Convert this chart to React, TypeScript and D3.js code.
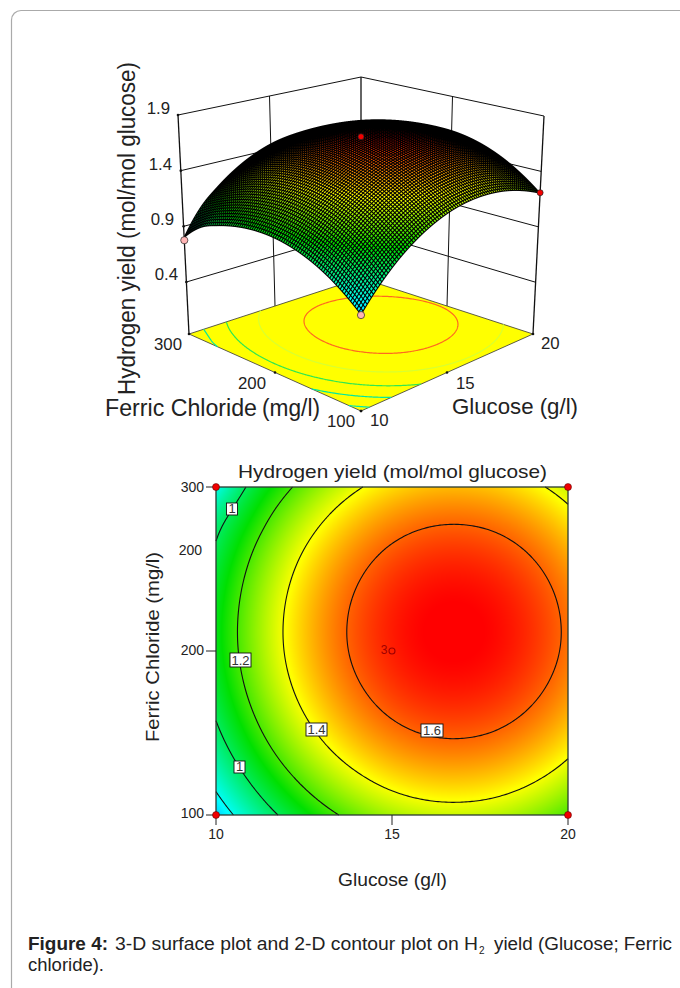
import { useMemo } from 'react';
import * as d3 from 'd3';

const FONT = '"Liberation Sans", Arial, sans-serif';

// response surface: rows are ferric chloride, columns glucose
const glucoseLevels = [10, 11, 12, 13, 14, 15, 16, 17, 18, 19, 20];
const ferricLevels = [100, 120, 140, 160, 180, 200, 220, 240, 260, 280, 300];
const yieldGrid = [
  [0.71, 0.885, 1.033, 1.152, 1.243, 1.307, 1.342, 1.349, 1.329, 1.28, 1.203],
  [0.833, 1.008, 1.156, 1.275, 1.366, 1.43, 1.465, 1.472, 1.452, 1.403, 1.326],
  [0.933, 1.108, 1.256, 1.375, 1.466, 1.53, 1.565, 1.572, 1.552, 1.503, 1.426],
  [1.008, 1.183, 1.331, 1.45, 1.541, 1.605, 1.64, 1.647, 1.627, 1.578, 1.501],
  [1.059, 1.234, 1.382, 1.501, 1.592, 1.656, 1.691, 1.698, 1.678, 1.629, 1.552],
  [1.086, 1.261, 1.409, 1.528, 1.619, 1.683, 1.718, 1.725, 1.705, 1.656, 1.579],
  [1.088, 1.263, 1.411, 1.53, 1.621, 1.685, 1.72, 1.727, 1.707, 1.658, 1.581],
  [1.066, 1.241, 1.389, 1.508, 1.599, 1.663, 1.698, 1.705, 1.685, 1.636, 1.559],
  [1.02, 1.195, 1.343, 1.462, 1.553, 1.617, 1.652, 1.659, 1.639, 1.59, 1.513],
  [0.949, 1.124, 1.272, 1.391, 1.482, 1.546, 1.581, 1.588, 1.568, 1.519, 1.442],
  [0.8, 1.029, 1.177, 1.296, 1.387, 1.451, 1.486, 1.493, 1.473, 1.424, 1.347],
];

const contourLevels = [0.8, 1, 1.2, 1.4, 1.6];
const floorLineColors = ['#00e8b0', '#00e8a0', '#30e850', '#d8ff30', '#ff6a20'];
const colorStops = [0.62, 0.78, 1.12, 1.41, 1.72];
const colorRange = ['#0090ff', '#00ffff', '#00e000', '#ffff00', '#ff0000'];

const yieldTicks3d = [0.4, 0.9, 1.4, 1.9];
const glucoseTicks = [10, 15, 20];
const ferricTicks = [100, 200, 300];

const designGlucose = [10, 10, 20, 20, 15];
const designFerric = [100, 300, 100, 300, 200];
const designYield3d = [0.706, 0.775, 1.208, 1.2, 1.74];

const color = d3.scaleLinear<string>().domain(colorStops).range(colorRange).clamp(true);

const gScale = d3.scaleLinear().domain([10, 20]);
const fScale = d3.scaleLinear().domain([100, 300]);
const zScale = d3.scaleLinear().domain([-0.067, 1.9]);

// box corners of the 3-D view: [glucose low/high][ferric low/high]
const floorBox = [[[361, 411], [189, 334]], [[533, 334], [361, 278]]];
const topBox = [[[361, 167], [178, 115]], [[544, 116], [361, 77]]];

const bilerp = (b: number[][][], u: number, v: number, k: number) =>
  (1 - u) * (1 - v) * b[0][0][k] + u * (1 - v) * b[1][0][k] + (1 - u) * v * b[0][1][k] + u * v * b[1][1][k];

const project = (g: number, f: number, z: number): [number, number] => {
  const u = gScale(g);
  const v = fScale(f);
  const w = zScale(z);
  return [
    bilerp(floorBox, u, v, 0) * (1 - w) + bilerp(topBox, u, v, 0) * w,
    bilerp(floorBox, u, v, 1) * (1 - w) + bilerp(topBox, u, v, 1) * w,
  ];
};

// catmull-rom just to smooth the read grid for drawing
const cr = (a: number, b: number, c: number, d: number, t: number) =>
  b + 0.5 * t * (c - a + t * (2 * a - 5 * b + 4 * c - d + t * (3 * (b - c) + d - a)));

const cell = (j: number, i: number): number => {
  const n = yieldGrid.length - 1;
  if (j < 0) return 3 * cell(0, i) - 3 * cell(1, i) + cell(2, i);
  if (j > n) return 3 * cell(n, i) - 3 * cell(n - 1, i) + cell(n - 2, i);
  if (i < 0) return 3 * yieldGrid[j][0] - 3 * yieldGrid[j][1] + yieldGrid[j][2];
  if (i > n) return 3 * yieldGrid[j][n] - 3 * yieldGrid[j][n - 1] + yieldGrid[j][n - 2];
  return yieldGrid[j][i];
};

const gIndex = d3.scaleLinear().domain([glucoseLevels[0], glucoseLevels[10]]).range([0, 10]);
const fIndex = d3.scaleLinear().domain([ferricLevels[0], ferricLevels[10]]).range([0, 10]);

const sample = (g: number, f: number) => {
  const x = gIndex(g);
  const y = fIndex(f);
  const i = Math.min(9, Math.floor(x));
  const j = Math.min(9, Math.floor(y));
  const row = (r: number) => cr(cell(r, i - 1), cell(r, i), cell(r, i + 1), cell(r, i + 2), x - i);
  return cr(row(j - 1), row(j), row(j + 1), row(j + 2), y - j);
};

// 2-D plot scales
const xPlot = d3.scaleLinear().domain([10, 20]).range([216, 568]);
const yPlot = d3.scaleLinear().domain([100, 300]).range([815, 487]);

const NX = 177;
const NY = 165;
const nxScale = d3.scaleLinear().domain([0.5, NX - 0.5]).range([10, 20]);
const nyScale = d3.scaleLinear().domain([0.5, NY - 0.5]).range([100, 300]);

// cut a contour ring into open runs, dropping the pieces running along the grid edge
const ringRuns = (ring: number[][]) => {
  const pts = ring.slice(0, -1);
  const onEdge = (p: number[]) => p[0] <= 0 || p[0] >= NX || p[1] <= 0 || p[1] >= NY;
  const start = pts.findIndex(onEdge);
  if (start < 0) return [ring];
  const runs: number[][][] = [];
  let cur: number[][] = [];
  for (let k = 0; k <= pts.length; k++) {
    const p = pts[(start + k) % pts.length];
    if (onEdge(p)) {
      if (cur.length > 1) runs.push(cur);
      cur = [];
    } else cur.push(p);
  }
  return runs;
};

const SURF_N = 85;
const MESH_BOX = { x: 170, y: 100, w: 380, h: 230 };
const MESH_SS = 4;

// mesh goes through a big canvas first, svg strokes beat against the pixel grid
const drawMesh = () => {
  const big = document.createElement('canvas');
  big.width = MESH_BOX.w * MESH_SS;
  big.height = MESH_BOX.h * MESH_SS;
  const ctx = big.getContext('2d')!;
  ctx.scale(MESH_SS, MESH_SS);
  ctx.translate(-MESH_BOX.x, -MESH_BOX.y);
  ctx.lineWidth = 1.05;
  ctx.lineJoin = 'round';
  ctx.strokeStyle = '#000';
  const gs = d3.range(SURF_N + 1).map((i) => 10 + (10 * i) / SURF_N);
  const fs = d3.range(SURF_N + 1).map((j) => 100 + (200 * j) / SURF_N);
  for (let i = SURF_N - 1; i >= 0; i--) {
    for (let j = SURF_N - 1; j >= 0; j--) {
      const corners = [[gs[i], fs[j]], [gs[i + 1], fs[j]], [gs[i + 1], fs[j + 1]], [gs[i], fs[j + 1]]];
      ctx.beginPath();
      corners.forEach(([g, f], k) => {
        const [x, y] = project(g, f, sample(g, f));
        if (k === 0) ctx.moveTo(x, y);
        else ctx.lineTo(x, y);
      });
      ctx.closePath();
      ctx.fillStyle = color(sample((gs[i] + gs[i + 1]) / 2, (fs[j] + fs[j + 1]) / 2)) as string;
      ctx.fill();
      ctx.stroke();
    }
  }
  const small = document.createElement('canvas');
  small.width = MESH_BOX.w;
  small.height = MESH_BOX.h;
  const sctx = small.getContext('2d')!;
  sctx.imageSmoothingEnabled = true;
  sctx.imageSmoothingQuality = 'high';
  sctx.drawImage(big, 0, 0, MESH_BOX.w, MESH_BOX.h);
  return small.toDataURL();
};

const App = () => {
  const { heatUrl, runs, meshUrl } = useMemo(() => {
    const canvas = document.createElement('canvas');
    canvas.width = 352;
    canvas.height = 328;
    const ctx = canvas.getContext('2d')!;
    const img = ctx.createImageData(352, 328);
    for (let y = 0; y < 328; y++) {
      for (let x = 0; x < 352; x++) {
        const c = d3.rgb(color(sample(xPlot.invert(216 + x + 0.5), yPlot.invert(487 + y + 0.5))));
        const o = (y * 352 + x) * 4;
        img.data[o] = c.r;
        img.data[o + 1] = c.g;
        img.data[o + 2] = c.b;
        img.data[o + 3] = 255;
      }
    }
    ctx.putImageData(img, 0, 0);

    const values: number[] = [];
    for (let j = 0; j < NY; j++) for (let i = 0; i < NX; i++) values.push(sample(nxScale(i + 0.5), nyScale(j + 0.5)));
    const polys = d3.contours().size([NX, NY]).thresholds(contourLevels)(values);
    const runs = polys.map((p, li) => ({
      level: contourLevels[li],
      lines: p.coordinates.flatMap((poly) => poly.flatMap((ring) => ringRuns(ring as number[][]))),
    }));
    return { heatUrl: canvas.toDataURL(), runs, meshUrl: drawMesh() };
  }, []);

  const line2d = d3.line<number[]>().x((p) => xPlot(nxScale(p[0]))).y((p) => yPlot(nyScale(p[1])));
  const lineFloor = d3
    .line<number[]>()
    .x((p) => project(nxScale(p[0]), nyScale(p[1]), -0.067)[0])
    .y((p) => project(nxScale(p[0]), nyScale(p[1]), -0.067)[1]);
  const seg = (a: [number, number], b: [number, number], key: string, w = 1) => (
    <line key={key} x1={a[0]} y1={a[1]} x2={b[0]} y2={b[1]} stroke="#111" strokeWidth={w} />
  );
  const zLo = -0.067;
  const zHi = 1.9;
  const t3d = { fontFamily: FONT, fontSize: 16.8, fill: '#222' };

  return (
    <svg width={680} height={988} style={{ position: 'absolute', left: 0, top: 0, background: '#fff' }} fontFamily={FONT}>
      <path d="M680 10.5H21a9.5 9.5 0 0 0-9.5 9.5V988" fill="none" stroke="#aaa" strokeWidth={1.2} />

      {/* 3-D box */}
      <g>
        {yieldTicks3d.map((z) => (
          <g key={z}>
            {seg(project(10, 300, z), project(20, 300, z), `l${z}`)}
            {seg(project(20, 300, z), project(20, 100, z), `r${z}`)}
            <circle cx={project(10, 300, z)[0]} cy={project(10, 300, z)[1]} r={1.3} fill="#111" />
          </g>
        ))}
        {seg(project(15, 300, zLo), project(15, 300, zHi), 'gmid')}
        {seg(project(20, 200, zLo), project(20, 200, zHi), 'fmid')}
        {seg(project(10, 300, zLo), project(10, 300, zHi), 'ax-l', 1.3)}
        {seg(project(20, 100, zLo), project(20, 100, zHi), 'ax-r', 1.3)}
        {seg(project(20, 300, zLo), project(20, 300, zHi), 'ax-b', 1.3)}
        <polygon
          points={[project(10, 100, zLo), project(20, 100, zLo), project(20, 300, zLo), project(10, 300, zLo)].map((p) => p.join(',')).join(' ')}
          fill="#ffff00"
          stroke="#333"
          strokeWidth={0.8}
        />
        {runs.map((r, li) =>
          r.lines.map((l, k) => (
            <path key={`${li}-${k}`} d={lineFloor(l)!} fill="none" stroke={floorLineColors[li]} strokeWidth={1.2} />
          )),
        )}
        {ferricTicks.map((f) => (
          <circle key={`tf${f}`} cx={project(10, f, zLo)[0]} cy={project(10, f, zLo)[1]} r={1.3} fill="#111" />
        ))}
        {glucoseTicks.map((g) => (
          <circle key={`tg${g}`} cx={project(g, 100, zLo)[0]} cy={project(g, 100, zLo)[1]} r={1.3} fill="#111" />
        ))}
      </g>

      {/* surface mesh */}
      <image href={meshUrl} x={MESH_BOX.x} y={MESH_BOX.y} width={MESH_BOX.w} height={MESH_BOX.h} />

      {designGlucose.map((g, i) => {
        if (g === 20 && designFerric[i] === 300) return null;
        const [x, y] = project(g, designFerric[i], designYield3d[i]);
        const pink = i < 2;
        return <circle key={`dp${i}`} cx={x} cy={y} r={pink ? 3.6 : 3} fill={pink ? '#ffb4b4' : '#f40000'} stroke="#222" strokeWidth={0.7} />;
      })}
      <text transform="translate(135,395) rotate(-90)" fontSize={23} textLength={333} lengthAdjust="spacingAndGlyphs" fill="#222">
        Hydrogen yield (mol/mol glucose)
      </text>
      <g textAnchor="end" {...t3d}>
        <text x={170} y={114}>1.9</text>
        <text x={172} y={170}>1.4</text>
        <text x={174} y={225}>0.9</text>
        <text x={178} y={280}>0.4</text>
      </g>
      <g {...t3d}>
        <text x={154} y={350}>300</text>
        <text x={238} y={389}>200</text>
        <text x={327} y={427}>100</text>
        <text x={370} y={426}>10</text>
        <text x={456} y={389}>15</text>
        <text x={541} y={349}>20</text>
      </g>
      <text x={105} y={416} fontSize={23} fill="#222" textLength={152} lengthAdjust="spacingAndGlyphs">Ferric Chloride</text>
      <text x={262} y={416} fontSize={23} fill="#222" textLength={58} lengthAdjust="spacingAndGlyphs">(mg/l)</text>
      <text x={452} y={414} fontSize={22.5} fill="#222" textLength={126} lengthAdjust="spacingAndGlyphs">Glucose (g/l)</text>

      {/* contour plot */}
      <text x={238} y={478} fontSize={18.5} fill="#222" textLength={309} lengthAdjust="spacingAndGlyphs">
        Hydrogen yield (mol/mol glucose)
      </text>
      <image href={heatUrl} x={216} y={487} width={352} height={328} />
      {runs.map((r, li) =>
        r.lines.map((l, k) => <path key={`c${li}-${k}`} d={line2d(l)!} fill="none" stroke="#111" strokeWidth={1.1} />),
      )}
      <rect x={216} y={487} width={352} height={328} fill="none" stroke="#2a3a30" strokeWidth={1.3} />

      <g stroke="#222" strokeWidth={1}>
        {ferricTicks.map((f) => (
          <line key={f} x1={206} x2={216} y1={yPlot(f)} y2={yPlot(f)} />
        ))}
        {glucoseTicks.map((g) => (
          <line key={g} x1={xPlot(g)} x2={xPlot(g)} y1={815} y2={825} />
        ))}
      </g>
      <g fontSize={14} fill="#222" textAnchor="end">
        <text x={204} y={492}>300</text>
        <text x={202} y={555}>200</text>
        <text x={204} y={655}>200</text>
        <text x={204} y={818}>100</text>
      </g>
      <g fontSize={14} fill="#222" textAnchor="middle">
        {glucoseTicks.map((g) => (
          <text key={g} x={xPlot(g)} y={839}>{g}</text>
        ))}
      </g>
      <text x={338} y={886} fontSize={18} fill="#222" textLength={109} lengthAdjust="spacingAndGlyphs">Glucose (g/l)</text>
      <text transform="translate(159,742) rotate(-90)" fontSize={18.5} fill="#222" textLength={190} lengthAdjust="spacingAndGlyphs">
        Ferric Chloride (mg/l)
      </text>

      {[
        { s: '1', x: 226.5, y: 503, w: 11, h: 12 },
        { s: '1.2', x: 230, y: 653, w: 21, h: 14 },
        { s: '1.4', x: 306, y: 723, w: 21, h: 13 },
        { s: '1', x: 234, y: 761, w: 11, h: 12 },
        { s: '1.6', x: 421, y: 724, w: 22, h: 13 },
      ].map((b, i) => (
        <g key={i}>
          <rect x={b.x} y={b.y} width={b.w} height={b.h} fill="#fff" stroke="#111" strokeWidth={0.9} />
          <text x={b.x + b.w / 2} y={b.y + b.h - 2} fontSize={13} textAnchor="middle" fill="#333">{b.s}</text>
        </g>
      ))}

      {designGlucose.map((g, i) =>
        g === 15 ? (
          <g key={i}>
            <circle cx={xPlot(g)} cy={yPlot(designFerric[i])} r={3} fill="none" stroke="#a00000" strokeWidth={1.1} />
            <text x={xPlot(g) - 4.5} y={yPlot(designFerric[i]) + 3} fontSize={12} fill="#a00000" textAnchor="end">3</text>
          </g>
        ) : (
          <circle key={i} cx={xPlot(g)} cy={yPlot(designFerric[i])} r={3.5} fill="#f00000" stroke="#400" strokeWidth={0.5} />
        ),
      )}

      {/* caption */}
      <g fontSize={17.5} fill="#222">
        <text x={28} y={950} fontWeight="bold" textLength={80} lengthAdjust="spacingAndGlyphs">Figure 4:</text>
        <text x={115} y={950} textLength={363} lengthAdjust="spacingAndGlyphs">3-D surface plot and 2-D contour plot on H</text>
        <text x={479} y={954} fontSize={10}>2</text>
        <text x={494} y={950} textLength={178} lengthAdjust="spacingAndGlyphs">yield (Glucose; Ferric</text>
        <text x={28} y={971} textLength={76} lengthAdjust="spacingAndGlyphs">chloride).</text>
      </g>
    </svg>
  );
};

export default App;
